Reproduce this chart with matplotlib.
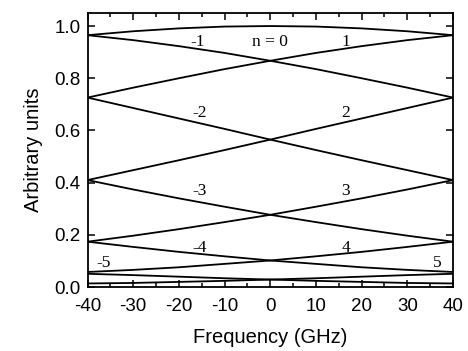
import matplotlib
matplotlib.use("Agg")
from matplotlib import pyplot as plt
from matplotlib.ticker import MultipleLocator

# frequency samples (GHz)
freq = [-40, -30, -20, -10, 0, 10, 20, 30, 40]

# curve values, one list per order n
curve_m5 = [0.051, 0.046, 0.040, 0.034, 0.029, 0.024, 0.020, 0.016, 0.014]
curve_m4 = [0.174, 0.154, 0.135, 0.118, 0.102, 0.089, 0.076, 0.066, 0.058]
curve_m3 = [0.410, 0.374, 0.340, 0.308, 0.277, 0.249, 0.222, 0.197, 0.174]
curve_m2 = [0.726, 0.686, 0.646, 0.606, 0.565, 0.525, 0.486, 0.448, 0.410]
curve_m1 = [0.965, 0.946, 0.923, 0.897, 0.867, 0.835, 0.800, 0.764, 0.726]
curve_0 = [0.965, 0.980, 0.991, 0.998, 1.000, 0.998, 0.991, 0.980, 0.965]
curve_p1 = [0.726, 0.764, 0.800, 0.835, 0.867, 0.897, 0.923, 0.946, 0.965]
curve_p2 = [0.410, 0.448, 0.486, 0.525, 0.565, 0.606, 0.646, 0.686, 0.726]
curve_p3 = [0.174, 0.197, 0.222, 0.249, 0.277, 0.308, 0.340, 0.374, 0.410]
curve_p4 = [0.058, 0.066, 0.076, 0.089, 0.102, 0.118, 0.135, 0.154, 0.174]
curve_p5 = [0.014, 0.016, 0.020, 0.024, 0.029, 0.034, 0.040, 0.046, 0.051]

curvas = [curve_m5, curve_m4, curve_m3, curve_m2, curve_m1, curve_0,
          curve_p1, curve_p2, curve_p3, curve_p4, curve_p5]

# curve labels: text, x, y
etiquetas = ["-1", "n = 0", "1", "-2", "2", "-3", "3", "-4", "4", "-5", "5"]
etiq_x = [-16, 0, 16.5, -15.5, 16.5, -15.5, 16.5, -15.5, 16.5, -36.5, 36.5]
etiq_y = [0.94, 0.94, 0.94, 0.666, 0.666, 0.368, 0.368, 0.150, 0.150, 0.092, 0.092]

plt.rcParams['font.family'] = ['Liberation Sans', 'DejaVu Sans']
plt.rcParams['axes.unicode_minus'] = False

fig = plt.figure(figsize=(4.68, 3.51), dpi=100)
ax = fig.add_axes([0.187, 0.182, 0.781, 0.781])

for c in curvas:
    ax.plot(freq, c, color='black', linewidth=1.3)

for t, x, y in zip(etiquetas, etiq_x, etiq_y):
    ax.text(x, y, t, ha='center', va='center', fontsize=12.5,
            family=['Liberation Serif', 'DejaVu Serif'])

ax.set_xlim(-40, 40)
ax.set_ylim(0, 1.05)
ax.xaxis.set_major_locator(MultipleLocator(10))
ax.xaxis.set_minor_locator(MultipleLocator(5))
ax.yaxis.set_major_locator(MultipleLocator(0.2))
ax.yaxis.set_major_formatter(plt.FormatStrFormatter('%.1f'))
ax.tick_params(which='both', direction='in', top=True, right=True,
               labelsize=13.5, width=1.1)
ax.tick_params(which='major', length=5)
ax.tick_params(axis='x', which='major', pad=8)
ax.tick_params(axis='y', which='major', pad=5)
ax.tick_params(which='minor', length=3)
for s in ax.spines.values():
    s.set_linewidth(1.3)

ax.set_xlabel('Frequency (GHz)', fontsize=14.5, labelpad=9)
ax.set_ylabel('Arbitrary units', fontsize=14.5, labelpad=8)

fig.savefig('out.png', dpi=100)
